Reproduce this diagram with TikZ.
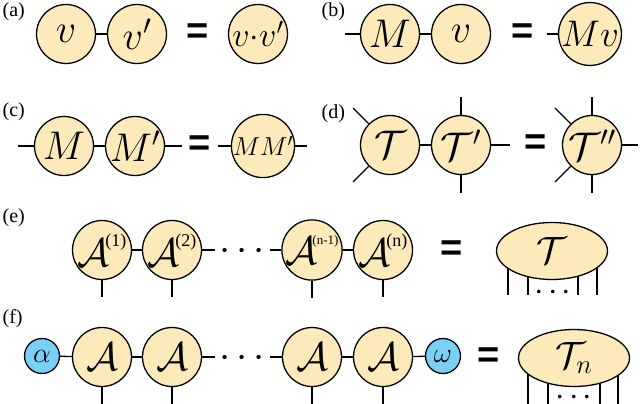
\documentclass[tikz,border=0pt]{standalone}
\usepackage{fix-cm}
\usepackage{fontspec}
\newfontfamily\tms{Liberation Serif}
\newfontfamily\eqfont{Liberation Sans}
\usetikzlibrary{shapes.geometric,backgrounds}
\definecolor{tyel}{RGB}{252,234,186}
\definecolor{tblu}{RGB}{120,208,246}
\newcommand{\Asup}[3][18]{$\mathcal{A}$\kern#2\raisebox{20pt}{\tms\fontsize{#1}{#1}\selectfont#3}}
\begin{document}
\begin{tikzpicture}[x=1pt,y=-1pt,line width=1.3pt,
  ten/.style={circle,draw,fill=tyel,minimum size=59pt,inner sep=0pt,font=\fontsize{40}{40}\selectfont},
  bnd/.style={circle,draw,fill=tblu,minimum size=35pt,inner sep=0pt,font=\fontsize{28}{28}\selectfont},
  bigell/.style={ellipse,draw,fill=tyel,minimum width=111pt,minimum height=57pt,inner sep=0pt,font=\fontsize{38}{38}\selectfont},
  eqs/.style={font=\eqfont\bfseries\fontsize{38}{38}\selectfont,inner sep=0pt},
  lab/.style={font=\tms\fontsize{20}{20}\selectfont,anchor=base west,inner sep=0pt},
  dts/.style={font=\fontsize{40}{40}\selectfont,inner sep=0pt,anchor=base},
  sdts/.style={font=\fontsize{34}{34}\selectfont,inner sep=0pt,anchor=base},
  leg/.style={line width=1.3pt}]
\useasboundingbox (0,0) rectangle (640,404);
% (a)
\node[lab] (la) at (2,17) {(a)};
\node[ten] (a1) at (66,34) {$v$};
\node[ten] (a2) at (137,34) {$v'$};
\node[eqs] (aeq) at (198,34) {=};
\node[ten,font=\fontsize{34}{34}\selectfont] (a3) at (258,34) {$v{\cdot}v'$};
\draw (a1) -- (a2);
% (b)
\node[lab] (lb) at (321,17) {(b)};
\coordinate (b0) at (345,34);
\node[ten] (b1) at (390,34) {$M$};
\node[ten] (b2) at (461,34) {$v$};
\node[eqs] (beq) at (523,34) {=};
\coordinate (b3) at (547,34);
\node[ten,font=\fontsize{37}{37}\selectfont] (b4) at (590,34) {$Mv$};
\draw (b0) -- (b1);
\draw (b1) -- (b2);
\draw (b3) -- (b4);
% (c)
\node[lab] (lc) at (2,117) {(c)};
\coordinate (c0) at (18,146);
\node[ten] (c1) at (64,146) {$M$};
\node[ten] (c2) at (135,146) {$M'$};
\coordinate (c3) at (182,146);
\node[eqs] (ceq) at (200,146) {=};
\coordinate (c4) at (218,146);
\node[ten,font=\fontsize{26}{26}\selectfont] (c5) at (263,146) {$MM'$};
\coordinate (c6) at (307,146);
\draw (c0) -- (c1);
\draw (c1) -- (c2);
\draw (c2) -- (c3);
\draw (c4) -- (c5);
\draw (c5) -- (c6);
% (d)
\node[lab] (ld) at (321,118) {(d)};
\node[ten] (d1) at (390,145) {$\mathcal{T}$};
\node[ten] (d2) at (461,145) {$\mathcal{T}'$};
\node[eqs] (deq) at (536,145) {=};
\node[ten] (d3) at (592,145) {$\mathcal{T}''$};
\coordinate (d1ul) at (353,108);
\coordinate (d1ll) at (353,182);
\coordinate (d2t) at (461,97);
\coordinate (d2b) at (461,193);
\coordinate (d2r) at (510,145);
\coordinate (d3ul) at (555,108);
\coordinate (d3t) at (592,97);
\coordinate (d3r) at (638,145);
\coordinate (d3ll) at (555,182);
\coordinate (d3b) at (592,193);
\draw (d1ul) -- (d1.135);
\draw (d1ll) -- (d1.225);
\draw (d1) -- (d2);
\draw (d2t) -- (d2.north);
\draw (d2b) -- (d2.south);
\draw (d2r) -- (d2.east);
\draw (d3ul) -- (d3.135);
\draw (d3t) -- (d3.north);
\draw (d3r) -- (d3.east);
\draw (d3ll) -- (d3.225);
\draw (d3b) -- (d3.south);
% (e)
\node[lab] (le) at (2,222) {(e)};
\node[ten] (e1) at (102,250) {\Asup{-4pt}{(1)}};
\node[ten] (e2) at (172,250) {\Asup{-4pt}{(2)}};
\node[dts] (edots) at (242,260) {${\cdot}\kern6pt{\cdot}\kern6pt{\cdot}$};
\node[ten] (e3) at (312,250) {\Asup[13]{-5pt}{(n-1)}};
\node[ten] (e4) at (383,250) {\Asup{-4pt}{(n)}};
\node[eqs] (eeq) at (452,251) {=};
\node[bigell] (eT) at (552,251) {$\mathcal{T}$};
\coordinate (e2r) at (215,250);
\coordinate (e3l) at (270,250);
\draw (e1) -- (e2);
\draw (e2) -- (e2r);
\draw (e3l) -- (e3);
\draw (e3) -- (e4);
\foreach \n in {e1,e2,e3,e4} \draw (\n.south) -- ++(0,17);
\begin{scope}[on background layer]
\foreach \dx in {-44,-24,26,45} \draw[leg] ([xshift=\dx pt]eT.center) -- ++(0,44);
\end{scope}
\node[sdts] (eTdots) at (553,300.5) {${\cdot}\kern4pt{\cdot}\kern4pt{\cdot}$};
% (f)
\node[lab] (lf) at (2,323) {(f)};
\node[bnd] (f0) at (42,356) {$\alpha$};
\node[ten] (f1) at (102,357) {$\mathcal{A}$};
\node[ten] (f2) at (172,357) {$\mathcal{A}$};
\node[dts] (fdots) at (242,367) {${\cdot}\kern6pt{\cdot}\kern6pt{\cdot}$};
\node[ten] (f3) at (312,357) {$\mathcal{A}$};
\node[ten] (f4) at (383,357) {$\mathcal{A}$};
\node[bnd] (f5) at (443,356) {$\omega$};
\node[eqs] (feq) at (489,358) {=};
\node[bigell] (fT) at (574,358) {$\mathcal{T}_n$};
\coordinate (f2r) at (215,357);
\coordinate (f3l) at (270,357);
\draw (f0) -- (f1);
\draw (f1) -- (f2);
\draw (f2) -- (f2r);
\draw (f3l) -- (f3);
\draw (f3) -- (f4);
\draw (f4) -- (f5);
\foreach \n in {f1,f2,f3,f4} \draw (\n.south) -- ++(0,20);
\begin{scope}[on background layer]
\foreach \dx in {-46,-26,26,44} \draw[leg] ([xshift=\dx pt]fT.center) -- ++(0,50);
\end{scope}
\node[sdts] (fTdots) at (574,405) {${\cdot}\kern4pt{\cdot}\kern4pt{\cdot}$};
\end{tikzpicture}
\end{document}
